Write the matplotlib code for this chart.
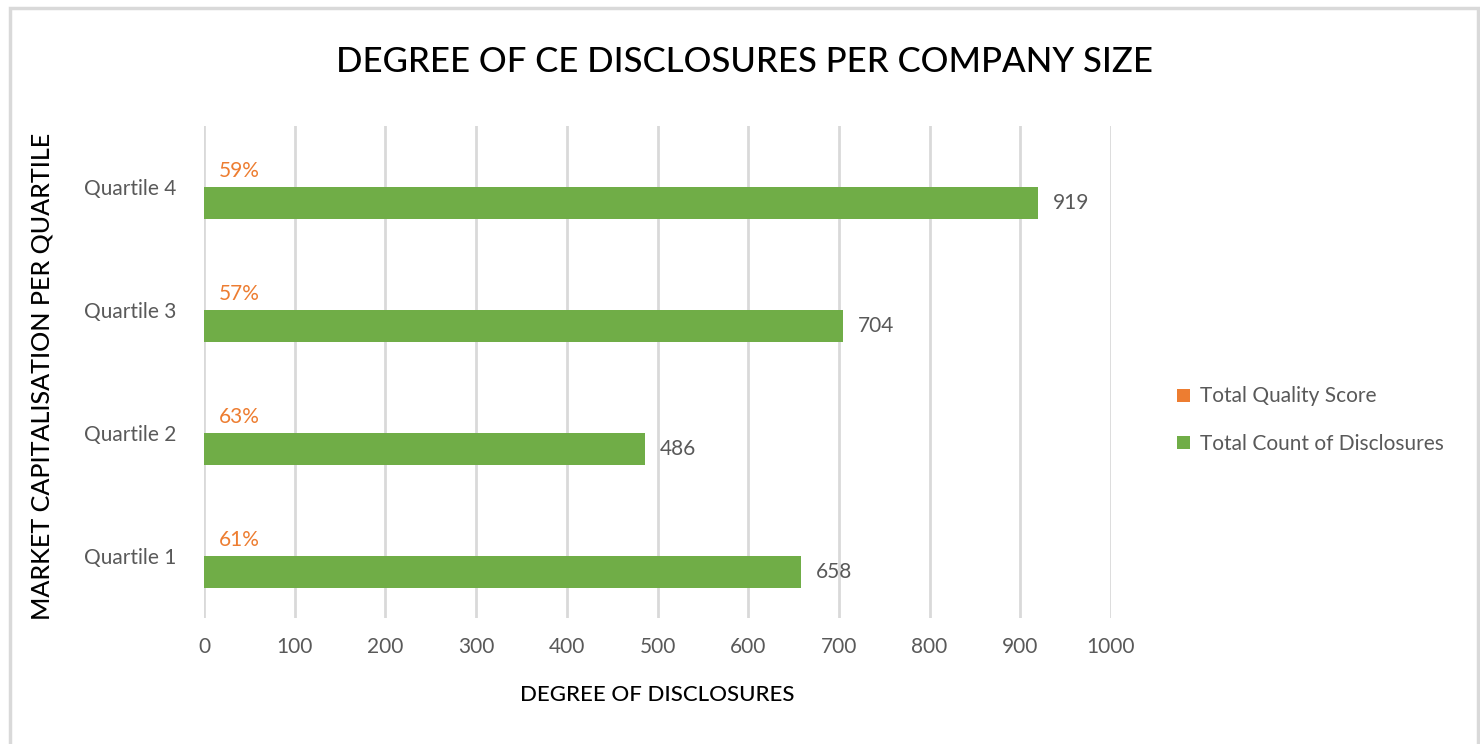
import numpy as np
import matplotlib.pyplot as plt
from matplotlib.patches import Rectangle
from matplotlib import font_manager

# Dados
quartis = ['Quartile 1', 'Quartile 2', 'Quartile 3', 'Quartile 4']
contagem = [658, 486, 704, 919]          # Total Count of Disclosures
qualidade = [0.61, 0.63, 0.57, 0.59]     # Total Quality Score
xticks = np.arange(0, 1001, 100)

verde = '#70AD47'
laranja = '#ED7D31'
cinza = '#595959'

nomes = {f.name for f in font_manager.fontManager.ttflist}
fonte = 'Lato' if 'Lato' in nomes else 'DejaVu Sans'
plt.rcParams['font.family'] = [fonte, 'DejaVu Sans']

fig = plt.figure(figsize=(14.8, 7.44), dpi=100)
ax = fig.add_axes([204/1480, 126.5/744, (1111-204)/1480, (618.5-126.5)/744])

# moldura cinza em volta do gráfico
fig.patches.append(Rectangle((10/1480, -0.05), 1468/1480, 1.05 - 8/744,
                             transform=fig.transFigure, fill=False,
                             edgecolor='#D9D9D9', linewidth=2.5))

y = np.arange(len(quartis))
h = 0.26
b_cont = ax.barh(y - h/2, contagem, height=h, color=verde, label='Total Count of Disclosures')
# barras de qualidade (valores < 1) ficam sob a linha de grade do zero
b_qual = ax.barh(y + h/2, qualidade, height=h, color=laranja, label='Total Quality Score',
                 snap=False, linewidth=0, zorder=0.4)

for rect, v in zip(b_cont, contagem):
    ax.annotate(f'{v}', (rect.get_width(), rect.get_y() + rect.get_height()/2),
                xytext=(11, 0), textcoords='offset points', va='center',
                ha='left', color=cinza, fontsize=15)
for rect, v in zip(b_qual, qualidade):
    ax.annotate(f'{v:.0%}', (rect.get_width(), rect.get_y() + rect.get_height()/2),
                xytext=(10, 0), textcoords='offset points', va='center',
                ha='left', color=laranja, fontsize=15)

ax.set_xlim(0, 1000)
ax.set_ylim(-0.5, 3.5)
ax.set_xticks(xticks)
ax.set_yticks(y)
ax.set_yticklabels(quartis)
ax.tick_params(length=0, labelsize=15, labelcolor=cinza)
ax.tick_params(axis='y', pad=20)
ax.tick_params(axis='x', pad=14)
ax.grid(axis='x', color='#D9D9D9', linewidth=2)
ax.set_axisbelow(True)
for s in ax.spines.values():
    s.set_visible(False)

ax.set_xlabel('DEGREE OF DISCLOSURES', fontsize=16, fontweight='medium', labelpad=20)
ax.set_ylabel('MARKET CAPITALISATION PER QUARTILE', fontsize=18, fontweight='medium')
ax.yaxis.set_label_coords(-0.166, 0.49)

fig.text(745/1480, 1 - 62/744, 'DEGREE OF CE DISCLOSURES PER COMPANY SIZE',
         fontsize=25, fontweight='medium', ha='center', va='center')

hs, ls = ax.get_legend_handles_labels()
ax.legend(hs[::-1], ls[::-1], loc='center left', bbox_to_anchor=(1177/1480, 1 - 420/744),
          bbox_transform=fig.transFigure, frameon=False, fontsize=15,
          labelcolor=cinza, handlelength=0.6, handleheight=0.6, handletextpad=0.5,
          labelspacing=1.3, borderpad=0, borderaxespad=0)

fig.savefig('out.png', dpi=100)
